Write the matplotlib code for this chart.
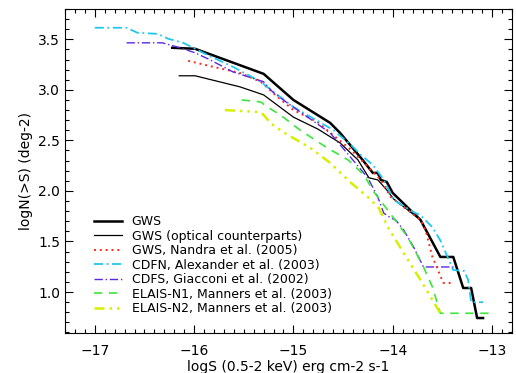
import numpy as np
import matplotlib
matplotlib.use('Agg')
import matplotlib.pyplot as plt
from matplotlib.ticker import MultipleLocator

# GWS
gws_x = [-16.22, -15.99, -15.30, -15.00, -14.63, -14.53, -14.32, -14.20, -14.15,
         -14.12, -14.06, -14.00, -13.72, -13.52, -13.39, -13.29, -13.21, -13.15, -13.09]
gws_y = [3.416, 3.406, 3.158, 2.90, 2.673, 2.574, 2.327, 2.178, 2.178,
         2.109, 2.089, 1.98, 1.713, 1.347, 1.347, 1.04, 1.04, 0.743, 0.743]

# GWS optical counterparts
opt_x = [-16.15, -15.99, -15.54, -15.30, -15.00, -14.75, -14.53, -14.35, -14.24,
         -14.15, -14.06, -13.99, -13.72]
opt_y = [3.139, 3.139, 3.03, 2.95, 2.73, 2.61, 2.475, 2.307, 2.13,
         2.109, 2.01, 1.92, 1.713]

# Nandra et al. (2005)
nan_x = [-16.06, -15.81, -15.54, -15.33, -15.16, -15.00, -14.76, -14.42, -14.25,
         -14.12, -14.02, -13.72, -13.67, -13.60, -13.49, -13.39]
nan_y = [3.287, 3.228, 3.168, 3.08, 2.93, 2.80, 2.683, 2.406, 2.238,
         2.109, 1.94, 1.713, 1.614, 1.347, 1.09, 1.09]

# CDFN, Alexander et al. (2003)
cdfn_x = [-17.00, -16.68, -16.57, -16.37, -16.26, -16.11, -15.87, -15.61, -15.33,
          -15.16, -15.00, -14.60, -14.42, -14.32, -14.20, -14.09, -13.99, -13.79,
          -13.72, -13.60, -13.52, -13.39, -13.28, -13.24, -13.21, -13.09]
cdfn_y = [3.614, 3.614, 3.564, 3.554, 3.505, 3.465, 3.347, 3.228, 3.08,
          2.95, 2.83, 2.604, 2.455, 2.356, 2.257, 2.109, 1.91, 1.79,
          1.76, 1.64, 1.51, 1.218, 1.208, 1.12, 0.90, 0.90]

# CDFS, Giacconi et al. (2002)
cdfs_x = [-16.68, -16.32, -16.14, -15.99, -15.84, -15.61, -15.30, -15.21, -15.06,
          -14.63, -14.25, -14.15, -14.09, -14.02, -13.97, -13.89, -13.79, -13.69, -13.38]
cdfs_y = [3.465, 3.465, 3.416, 3.366, 3.297, 3.178, 3.08, 2.98, 2.87,
          2.574, 2.129, 1.94, 1.78, 1.733, 1.713, 1.614, 1.446, 1.248, 1.248]

# ELAIS-N1
n1_x = [-15.52, -15.33, -15.26, -15.13, -14.93, -14.66, -14.45, -14.29, -14.19,
        -14.05, -13.85, -13.69, -13.60, -13.52, -12.99]
n1_y = [2.90, 2.88, 2.83, 2.75, 2.60, 2.426, 2.307, 2.158, 1.99,
        1.81, 1.545, 1.248, 1.05, 0.79, 0.79]

# ELAIS-N2
n2_x = [-15.69, -15.33, -15.28, -15.23, -15.10, -14.83, -14.63, -14.42, -14.25,
        -14.14, -14.05, -13.89, -13.72, -13.52]
n2_y = [2.80, 2.78, 2.73, 2.67, 2.58, 2.426, 2.277, 2.08, 1.94,
        1.83, 1.644, 1.386, 1.119, 0.79]

fig = plt.figure(figsize=(5.16, 3.73), dpi=100)
ax = fig.add_axes([0.126, 0.107, 0.866, 0.869])

ax.plot(gws_x, gws_y, color='black', lw=1.8, label='GWS')
ax.plot(opt_x, opt_y, color='black', lw=0.9, label='GWS (optical counterparts)')
ax.plot(nan_x, nan_y, color='#ff2a1a', lw=1.4, ls=(0, (1, 2)),
        label='GWS, Nandra et al. (2005)')
ax.plot(cdfn_x, cdfn_y, color='#1ec8f0', lw=1.3, ls=(0, (5, 2, 1, 2)),
        label='CDFN, Alexander et al. (2003)')
ax.plot(cdfs_x, cdfs_y, color='#5a28e6', lw=1.0, ls=(0, (6, 2, 1, 2)),
        label='CDFS, Giacconi et al. (2002)')
ax.plot(n1_x, n1_y, color='#3ce63c', lw=1.2, ls=(0, (5, 4)),
        label='ELAIS-N1, Manners et al. (2003)')
ax.plot(n2_x, n2_y, color='#d6f000', lw=1.8, ls=(0, (4, 2, 1, 2, 1, 2, 1, 2)),
        label='ELAIS-N2, Manners et al. (2003)')

ax.set_xlim(-17.3, -12.8)
ax.set_ylim(0.594, 3.8)
ax.xaxis.set_major_locator(MultipleLocator(1))
ax.xaxis.set_minor_locator(MultipleLocator(0.1))
ax.yaxis.set_major_locator(MultipleLocator(0.5))
ax.yaxis.set_minor_locator(MultipleLocator(0.1))
ax.yaxis.set_major_formatter(matplotlib.ticker.FormatStrFormatter('%.1f'))
ax.set_yticks([1.0, 1.5, 2.0, 2.5, 3.0, 3.5])
ax.tick_params(which='both', direction='in', top=True, right=True, labelsize=10)
ax.tick_params(which='major', length=6, width=0.8)
ax.tick_params(which='minor', length=3, width=0.8)
ax.tick_params(axis='x', pad=8)

ax.set_xlabel('logS (0.5-2 keV) erg cm-2 s-1', fontsize=10, labelpad=1)
ax.set_ylabel('logN(>S) (deg-2)', fontsize=10)

ax.legend(loc='lower left', bbox_to_anchor=(0.04, 0.02), frameon=False,
          fontsize=9, handlelength=2.2, labelspacing=0.12, handletextpad=0.8)

fig.savefig('out.png', dpi=100)
